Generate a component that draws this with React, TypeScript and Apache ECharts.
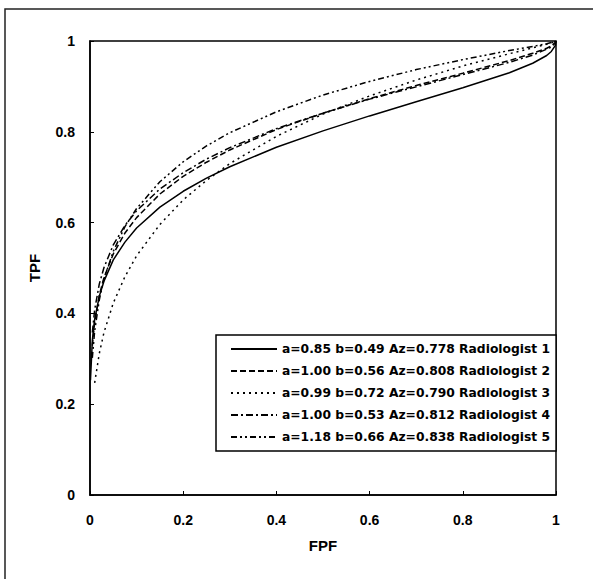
import React, { useEffect, useRef } from "react";
import * as echarts from "echarts";

const fpf = [0.001, 0.005, 0.01, 0.02, 0.03, 0.05, 0.075, 0.1, 0.15, 0.2, 0.25, 0.3, 0.4, 0.5, 0.6, 0.7, 0.8, 0.9, 0.95, 0.98, 0.99, 0.999, 1];

const r1 = [0.253, 0.340, 0.386, 0.438, 0.471, 0.518, 0.557, 0.588, 0.634, 0.669, 0.698, 0.723, 0.766, 0.802, 0.835, 0.866, 0.897, 0.930, 0.951, 0.968, 0.977, 0.991, 1];
const r2 = [null, 0.329, 0.381, 0.440, 0.479, 0.531, 0.577, 0.611, 0.663, 0.702, 0.733, 0.760, 0.805, 0.841, 0.873, 0.902, 0.929, 0.957, 0.973, 0.984, 0.989, 0.997, 1];
const r3 = [null, null, 0.247, 0.312, 0.358, 0.423, 0.481, 0.527, 0.596, 0.650, 0.693, 0.730, 0.790, 0.839, 0.879, 0.914, 0.945, 0.972, 0.985, 0.993, 0.996, 0.999, 1];
const r4 = [null, 0.358, 0.408, 0.465, 0.501, 0.551, 0.594, 0.626, 0.674, 0.710, 0.740, 0.765, 0.807, 0.841, 0.872, 0.899, 0.926, 0.953, 0.969, 0.982, 0.987, 0.996, 1];
const r5 = [null, 0.302, 0.361, 0.430, 0.476, 0.537, 0.591, 0.631, 0.690, 0.734, 0.769, 0.798, 0.844, 0.881, 0.911, 0.937, 0.959, 0.979, 0.988, 0.994, 0.997, 0.999, 1];

const seriesNames = [
  "a=0.85 b=0.49 Az=0.778 Radiologist 1",
  "a=1.00 b=0.56 Az=0.808 Radiologist 2",
  "a=0.99 b=0.72 Az=0.790 Radiologist 3",
  "a=1.00 b=0.53 Az=0.812 Radiologist 4",
  "a=1.18 b=0.66 Az=0.838 Radiologist 5",
];
const seriesValues = [r1, r2, r3, r4, r5];
const dashTypes: any[] = ["solid", [6, 3], [2, 4], [7, 3, 2, 3], [6, 3, 2, 3, 2, 3]];

const FONT = "Liberation Sans, Arial, sans-serif";
const LEGEND_FONT = "DejaVu Sans, sans-serif";

export default function App() {
  const ref = useRef<HTMLDivElement>(null);
  useEffect(() => {
    if (!ref.current) return;
    const chart = echarts.init(ref.current, null, { renderer: "svg" });
    const series = seriesValues.map((vals, i) => ({
      type: "line",
      name: seriesNames[i],
      data: fpf.map((x, j) => [x, vals[j]]).filter((p) => p[1] !== null),
      showSymbol: false,
      symbol: "none",
      smooth: false,
      lineStyle: { color: "#000", width: 1.5, type: dashTypes[i] },
      itemStyle: { color: "#000" },
    }));
    chart.setOption({
      animation: false,
      backgroundColor: "#fff",
      textStyle: { fontFamily: FONT },
      graphic: [
        {
          type: "rect",
          shape: { x: 5, y: 9, width: 700, height: 700 },
          style: { fill: "none", stroke: "#222", lineWidth: 1.5 },
          silent: true,
        },
      ],
      grid: {
        left: 90,
        top: 41,
        width: 466,
        height: 454,
        show: true,
        borderColor: "#000",
        borderWidth: 1.5,
        backgroundColor: "transparent",
      },
      legend: {
        left: 216,
        top: 335,
        orient: "vertical",
        align: "left",
        backgroundColor: "#fff",
        borderColor: "#000",
        borderWidth: 1.5,
        borderRadius: 0,
        padding: [7, 6, 7, 14],
        itemGap: 8,
        itemWidth: 46,
        itemHeight: 14,
        itemStyle: { opacity: 0, borderWidth: 0 },
        textStyle: { fontSize: 12.3, fontWeight: "bold", color: "#000", fontFamily: LEGEND_FONT, lineHeight: 14 },
        data: seriesNames,
      },
      xAxis: {
        type: "value",
        min: 0,
        max: 1,
        interval: 0.2,
        name: "FPF",
        nameLocation: "middle",
        nameGap: 43,
        nameTextStyle: { fontSize: 15, fontWeight: "bold", color: "#000", fontFamily: FONT },
        axisLine: { show: true, lineStyle: { color: "#000", width: 1.5 } },
        axisTick: { show: true, inside: true, length: 4, lineStyle: { color: "#000" } },
        axisLabel: { margin: 18, fontSize: 14, fontWeight: "bold", color: "#000", fontFamily: FONT },
        splitLine: { show: false },
      },
      yAxis: {
        type: "value",
        min: 0,
        max: 1,
        interval: 0.2,
        name: "TPF",
        nameLocation: "middle",
        nameGap: 48,
        nameRotate: 90,
        nameTextStyle: { fontSize: 15, fontWeight: "bold", color: "#000", fontFamily: FONT },
        axisLine: { show: true, lineStyle: { color: "#000", width: 1.5 } },
        axisTick: { show: true, inside: true, length: 4, lineStyle: { color: "#000" } },
        axisLabel: { margin: 15, fontSize: 14, fontWeight: "bold", color: "#000", fontFamily: FONT },
        splitLine: { show: false },
      },
      series,
    });
    return () => chart.dispose();
  }, []);
  return (
    <div
      ref={ref}
      style={{ position: "fixed", left: 0, top: 0, width: 593, height: 579, background: "#fff" }}
    />
  );
}
